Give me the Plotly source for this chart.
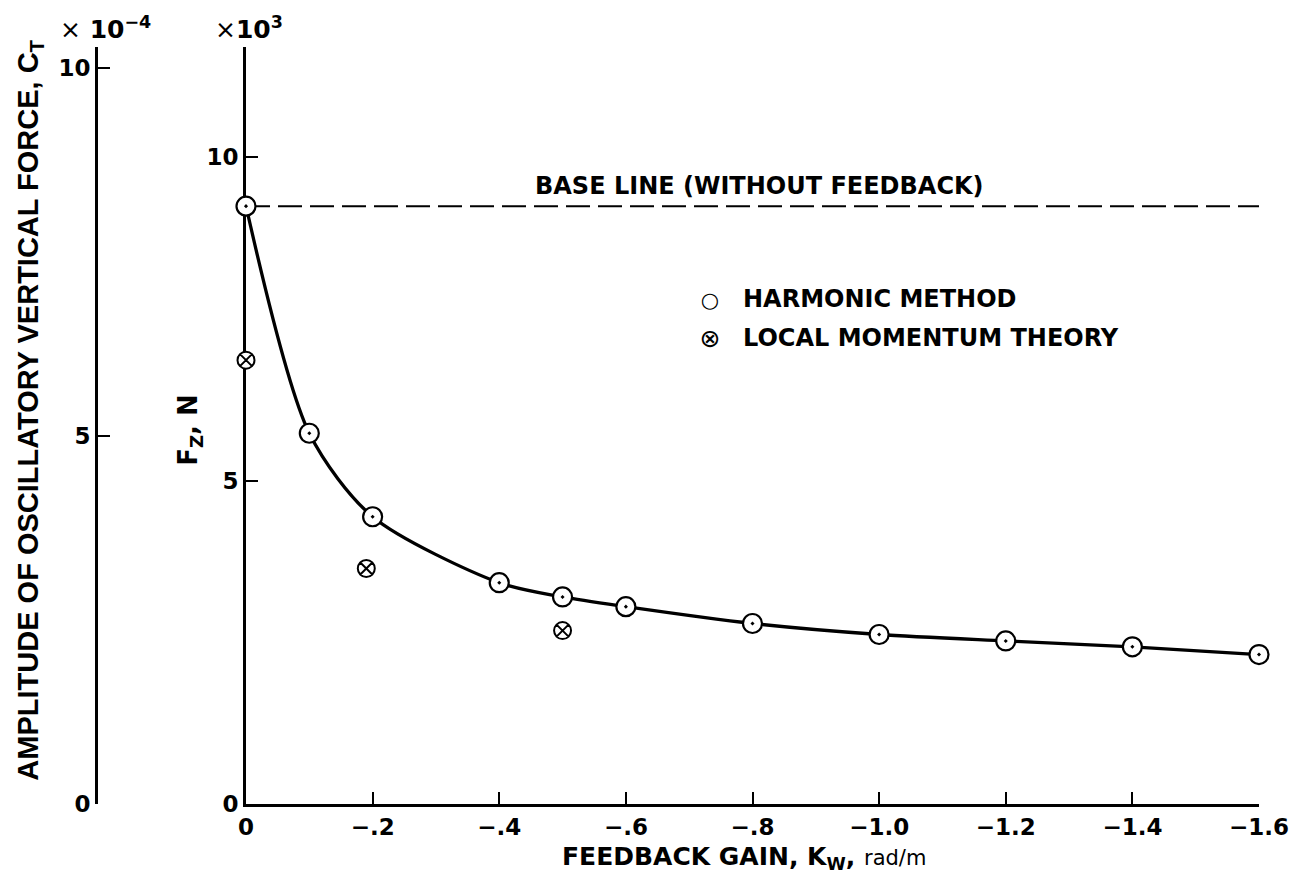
import plotly.graph_objects as go

# ---- data ----
harm_gain = [0.0, -0.1, -0.2, -0.4, -0.5, -0.6, -0.8, -1.0, -1.2, -1.4, -1.6]
harm_fz = [9.24, 5.73, 4.44, 3.42, 3.20, 3.05, 2.79, 2.62, 2.52, 2.43, 2.31]  # x10^3 N
lmt_gain = [0.0, -0.19, -0.5]
lmt_fz = [6.86, 3.64, 2.68]  # x10^3 N
baseline_fz = 9.24
baseline_gain = [0.0, -1.6]

x_ticks = [0, -0.2, -0.4, -0.6, -0.8, -1.0, -1.2, -1.4, -1.6]
x_ticklabels = ["0", "\u2212.2", "\u2212.4", "\u2212.6", "\u2212.8", "\u22121.0", "\u22121.2", "\u22121.4", "\u22121.6"]
fz_ticks = [0, 5, 10]
ct_ticks = [0, 5, 10]

FONT = "DejaVu Sans"
FONT2 = "Liberation Sans"
W, H = 1294, 884
L, R, T, B = 60, 35, 47, 80
PW = W - L - R
PH = H - T - B

def px(xpix):
    return (xpix - L) / PW

def py(ypix):
    return (H - B - ypix) / PH

fig = go.Figure()

# base line
fig.add_trace(go.Scatter(x=baseline_gain, y=[baseline_fz, baseline_fz], mode="lines",
                         line=dict(color="black", width=2, dash="24px,8px"),
                         showlegend=False, hoverinfo="skip", cliponaxis=False))
# fitted curve
fig.add_trace(go.Scatter(x=harm_gain, y=harm_fz, mode="lines",
                         line=dict(color="black", width=3.3, shape="spline", smoothing=0.8),
                         showlegend=False, hoverinfo="skip", cliponaxis=False))
# harmonic method markers
fig.add_trace(go.Scatter(x=harm_gain, y=harm_fz, mode="markers",
                         marker=dict(symbol="circle-dot", size=19, color="white",
                                     line=dict(color="black", width=2.2)),
                         showlegend=False, cliponaxis=False))
# local momentum theory markers
fig.add_trace(go.Scatter(x=lmt_gain, y=lmt_fz, mode="markers",
                         marker=dict(symbol="circle-x", size=17, color="white",
                                     line=dict(color="black", width=2)),
                         showlegend=False, cliponaxis=False))

x0 = px(246)
axis_common = dict(showline=True, linecolor="black", linewidth=2.8, ticks="inside",
                   ticklen=12, tickwidth=2, tickcolor="black", showgrid=False, zeroline=False,
                   automargin=False)
fig.update_layout(
    width=W, height=H,
    margin=dict(l=L, r=R, t=T, b=B, autoexpand=False),
    paper_bgcolor="white", plot_bgcolor="white",
    font=dict(family=FONT, color="black", size=23, weight="bold"),
    showlegend=False,
    xaxis=dict(domain=[x0, 1], range=[0, -1.6], tickvals=x_ticks, ticktext=x_ticklabels,
               layer="below traces", tickfont=dict(size=23, family=FONT), **axis_common),
    yaxis=dict(range=[0, 11.7], tickvals=fz_ticks, ticktext=["0", "5", "10"],
               layer="below traces", tickfont=dict(size=23, family=FONT), anchor="x",
               **axis_common),
    yaxis2=dict(range=[0, 10.28], tickvals=ct_ticks, ticktext=["0", "5", "10"],
                overlaying="y", anchor="free", position=px(96), side="left",
                tickfont=dict(size=23, family=FONT), **axis_common),
)

# dummy trace so the outer axis is drawn
fig.add_trace(go.Scatter(x=[None], y=[None], yaxis="y2", showlegend=False))

def note(xp, yp, text, size, family=FONT, weight="bold", xanchor="left", w=None, h=None, angle=0):
    d = dict(x=px(xp), y=py(yp), xref="paper", yref="paper", text=text, showarrow=False,
             font=dict(size=size, family=family, weight=weight, color="black"),
             xanchor=xanchor, yanchor="middle", textangle=angle,
             align="left" if xanchor == "left" else "center")
    if w is not None:
        d["width"] = w
    if h is not None:
        d["height"] = h
    return d

ann = [
    note(533, 186, "BASE LINE (WITHOUT FEEDBACK)", 24, w=470, h=32),
    note(710, 300, "\u25cb", 21, weight="normal", xanchor="center", w=24, h=30),
    note(741, 299, "HARMONIC METHOD", 24, w=300, h=32),
    note(710, 338, "\u2297", 25, weight="normal", xanchor="center", w=24, h=32),
    note(741, 338, "LOCAL MOMENTUM THEORY", 24, w=400, h=32),
    note(560, 858, "FEEDBACK GAIN, K<sub>W</sub>, <span style='font-weight:normal;font-size:21px'>rad/m</span>",
         25, w=420, h=36),
    note(190, 430, "F<sub>Z</sub>, N", 26, xanchor="center", w=90, h=40, angle=-90),
    note(30, 410, "AMPLITUDE OF OSCILLATORY VERTICAL FORCE, C<sub>T</sub>", 29, family=FONT2,
         xanchor="center", w=780, h=40, angle=-90),
    note(58, 28, "<span style='font-weight:normal'>\u00d7</span> 10<sup>\u22124</sup>", 25, w=100, h=36),
    note(213, 28, "<span style='font-weight:normal'>\u00d7</span>10<sup>3</sup>", 25, w=80, h=36),
]
fig.update_layout(annotations=ann)

fig.write_html("out.html")
